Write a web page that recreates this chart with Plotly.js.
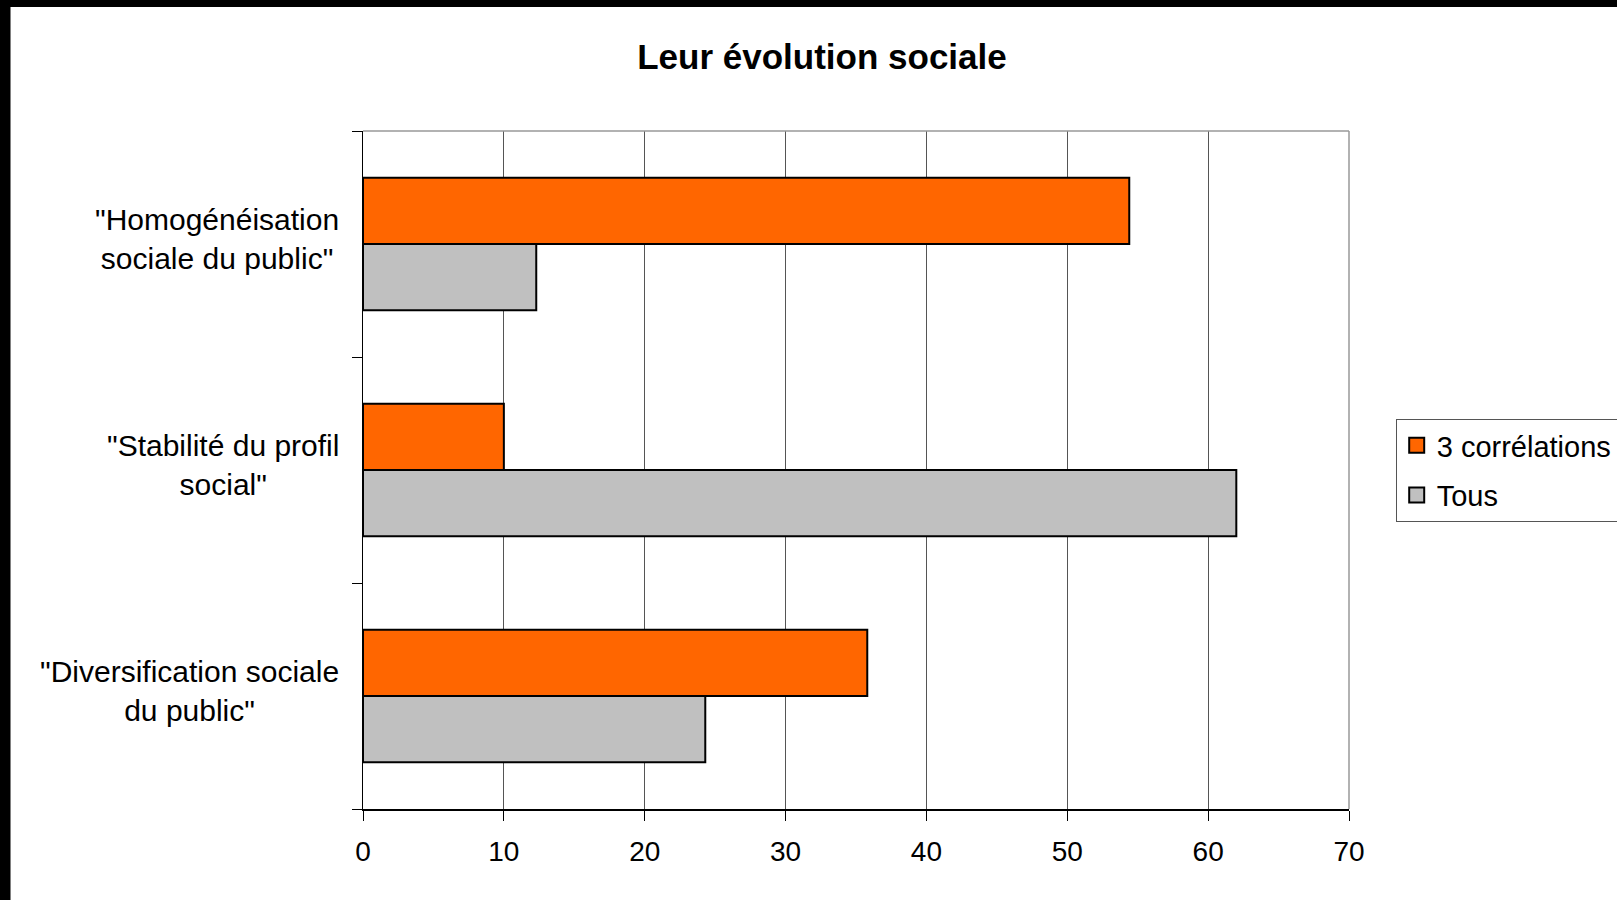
<!DOCTYPE html>
<html>
<head>
<meta charset="utf-8">
<script src="https://cdn.plot.ly/plotly-3.0.1.min.js"></script>
<style>
  html, body { margin: 0; padding: 0; background: #000; overflow: hidden; width: 1617px; height: 900px; }
  #chart { position: absolute; left: 10px; top: 7px; width: 1606px; height: 893px; border-left: 1px solid #808080; background: #fff; }
</style>
</head>
<body>
<div id="chart"></div>
<script>
// ---- Data ----
const chartTitle = 'Leur évolution sociale';
const categories = ['Diversification sociale du public', 'Stabilité du profil social', 'Homogénéisation sociale du public'];
const categoryLabels = ['"Diversification sociale<br>du public"', '"Stabilité du profil<br>social"', '"Homogénéisation<br>sociale du public"'];
const seriesNames = ['3 corrélations', 'Tous'];
const seriesColors = ['#FF6600', '#C0C0C0'];
const correlations3 = [35.8, 10.0, 54.4];
const tous = [24.3, 62.0, 12.3];
const xTickValues = [0, 10, 20, 30, 40, 50, 60, 70];

const FONT = '"Liberation Sans", Arial, sans-serif';

const traces = [
  // legend entries (larger square keys, like the original)
  {
    type: 'scatter', mode: 'markers', name: seriesNames[0], legendgroup: 'g0', legendrank: 1,
    x: [null], y: [null], showlegend: true,
    marker: { symbol: 'square', size: 15, color: seriesColors[0], line: { color: '#000', width: 2 } },
    hoverinfo: 'skip'
  },
  {
    type: 'scatter', mode: 'markers', name: seriesNames[1], legendgroup: 'g1', legendrank: 2,
    x: [null], y: [null], showlegend: true,
    marker: { symbol: 'square', size: 15, color: seriesColors[1], line: { color: '#000', width: 2 } },
    hoverinfo: 'skip'
  },
  // Bars: "Tous" first so that within each group it sits below the orange bar
  {
    type: 'bar', orientation: 'h', name: seriesNames[1], legendgroup: 'g1', legendrank: 2,
    y: categories, x: tous, showlegend: false,
    marker: { color: seriesColors[1], line: { color: '#000', width: 2 } },
    hoverinfo: 'x+name'
  },
  {
    type: 'bar', orientation: 'h', name: seriesNames[0], legendgroup: 'g0', legendrank: 1,
    y: categories, x: correlations3, showlegend: false,
    marker: { color: seriesColors[0], line: { color: '#000', width: 2 } },
    hoverinfo: 'x+name'
  }
];

const annotations = categories.map((c, i) => ({
  xref: 'paper', yref: 'y', x: 0, y: c,
  xanchor: 'right', yanchor: 'middle', xshift: -22, yshift: 5,
  text: categoryLabels[i], align: 'center', showarrow: false,
  font: { family: FONT, size: 30, color: '#000' }
}));

const layout = {
  width: 1606, height: 893,
  paper_bgcolor: '#fff', plot_bgcolor: '#fff',
  margin: { l: 352, r: 268, t: 124, b: 91, pad: 0 },
  font: { family: FONT, color: '#000' },
  title: {
    text: '<b>' + chartTitle + '</b>',
    font: { family: FONT, size: 35, color: '#000' },
    xref: 'container', yref: 'container',
    x: 811 / 1606, xanchor: 'center',
    y: 1 - 50 / 893, yanchor: 'middle'
  },
  barmode: 'group', bargap: 0.413, bargroupgap: 0,
  xaxis: {
    range: [0, 70], tickvals: xTickValues, ticktext: xTickValues.map(String),
    ticks: 'outside', ticklen: 10, tickwidth: 1, tickcolor: '#000',
    ticklabelstandoff: 7,
    showline: true, linecolor: '#000', linewidth: 1.5,
    showgrid: true, gridcolor: '#555', gridwidth: 1, zeroline: false,
    tickfont: { family: FONT, size: 28, color: '#000' },
    fixedrange: true
  },
  yaxis: {
    type: 'category', categoryorder: 'array', categoryarray: categories,
    range: [-0.5, 2.5],
    ticks: 'outside', tickson: 'boundaries', ticklen: 10, tickwidth: 1, tickcolor: '#000',
    showline: true, linecolor: '#000', linewidth: 1.5,
    showgrid: false, zeroline: false, showticklabels: false,
    fixedrange: true
  },
  legend: {
    xref: 'container', yref: 'container',
    x: 1384.7 / 1606, y: 1 - 412 / 893, xanchor: 'left', yanchor: 'top',
    traceorder: 'grouped', tracegroupgap: 9,
    bgcolor: '#fff', bordercolor: '#555', borderwidth: 1,
    font: { family: FONT, size: 29, color: '#000' }
  },
  annotations: annotations,
  shapes: [
    { type: 'line', xref: 'paper', yref: 'paper', x0: 0, x1: 1, y0: 1, y1: 1, line: { color: '#999', width: 1.5 }, layer: 'above' },
    { type: 'line', xref: 'paper', yref: 'paper', x0: 1, x1: 1, y0: 0, y1: 1, line: { color: '#999', width: 1.5 }, layer: 'above' }
  ],
  showlegend: true
};

Plotly.newPlot('chart', traces, layout, { displayModeBar: false, staticPlot: true });
</script>
</body>
</html>
